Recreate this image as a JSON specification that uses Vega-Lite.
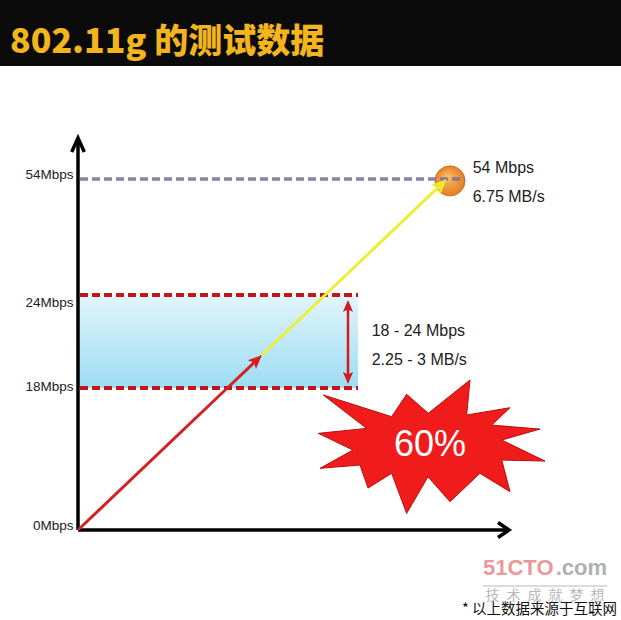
{
  "$schema": "https://vega.github.io/schema/vega-lite/v6.json",
  "width": 621,
  "height": 554,
  "autosize": {"type": "none"},
  "padding": {"top": 66, "left": 0, "right": 0, "bottom": 0},
  "background": "#0b0b0b",
  "view": {"fill": "#ffffff", "stroke": null},
  "title": {
    "text": "802.11g 的测试数据",
    "anchor": "start",
    "frame": "group",
    "font": "Noto Sans CJK SC",
    "fontSize": 34,
    "fontWeight": 900,
    "color": "#f2b51e",
    "baseline": "bottom",
    "offset": 6,
    "dx": 10,
    "dy": 34
  },
  "encoding": {
    "x": {"field": "x", "type": "quantitative", "scale": {"domain": [-78, 543], "nice": false, "zero": false}, "axis": null},
    "y": {
      "field": "y",
      "type": "quantitative",
      "scale": {"domain": [-11.41, 0, 18, 24, 54, 83.2], "range": [554, 464, 322, 229, 113, 0], "nice": false, "zero": false},
      "axis": {
        "values": [0, 18, 24, 54],
        "labelExpr": "datum.value + 'Mbps'",
        "domain": false,
        "ticks": false,
        "grid": false,
        "title": null,
        "offset": -78,
        "labelPadding": 5,
        "labelFont": "Liberation Sans",
        "labelFontSize": 13.5,
        "labelColor": "#222222",
        "labelOverlap": false,
        "labelBound": false,
        "labelFlush": false,
        "labelOffset": {"condition": [{"test": "datum.value === 24", "value": 7}, {"test": "datum.value === 18", "value": -2}], "value": -5}
      }
    }
  },
  "layer": [
    {
      "data": {"values": [{"x": 0, "x2": 280, "y": 18, "y2": 24}]},
      "mark": {"type": "rect", "fill": {"gradient": "linear", "x1": 0, "y1": 0, "x2": 0, "y2": 1, "stops": [{"offset": 0, "color": "#e2f5fb"}, {"offset": 1, "color": "#9cdcf3"}]}},
      "encoding": {"x2": {"field": "x2"}, "y2": {"field": "y2"}}
    },
    {
      "data": {"values": [{"x": 372, "y": 53.5}]},
      "mark": {"type": "point", "shape": "circle", "size": 900, "filled": true, "opacity": 1, "strokeWidth": 1, "stroke": "#d2701c",
        "fill": {"gradient": "radial", "x1": 0.4, "y1": 0.35, "r1": 0, "x2": 0.5, "y2": 0.5, "r2": 0.55, "stops": [{"offset": 0, "color": "#fbbf66"}, {"offset": 1, "color": "#e2781e"}]}}
    },
    {
      "data": {"values": [{"x": 2, "x2": 387, "y": 54}]},
      "mark": {"type": "rule", "stroke": "#7f72a0", "strokeWidth": 3.5, "strokeDash": [8, 4], "opacity": 0.9},
      "encoding": {"x2": {"field": "x2"}}
    },
    {
      "data": {"values": [{"x": 2, "x2": 280, "y": 24}, {"x": 2, "x2": 280, "y": 18}]},
      "mark": {"type": "rule", "stroke": "#c2141d", "strokeWidth": 4, "strokeDash": [8, 4]},
      "encoding": {"x2": {"field": "x2"}}
    },
    {
      "data": {"values": [{"x": 0, "x2": 0, "y": 0, "y2": 64.3}, {"x": 0, "x2": 430, "y": 0, "y2": 0}]},
      "mark": {"type": "rule", "stroke": "#000000", "strokeWidth": 3.5},
      "encoding": {"x2": {"field": "x2"}, "y2": {"field": "y2"}}
    },
    {
      "data": {"values": [{"x": 431, "y": 0}]},
      "mark": {"type": "point", "shape": "M-1,-0.68L0,0L-1,0.68", "size": 484, "filled": false, "stroke": "#000000", "strokeWidth": 3.5, "opacity": 1}
    },
    {
      "data": {"values": [{"x": 0, "y": 64.6}]},
      "mark": {"type": "point", "shape": "M-0.45,1L0,0L0.45,1", "size": 784, "filled": false, "stroke": "#000000", "strokeWidth": 3.5, "opacity": 1}
    },
    {
      "data": {"values": [{"x": 0, "y": 0}, {"x": 149.3, "y": 18}, {"x": 180, "y": 19.87}]},
      "mark": {"type": "line", "stroke": "#d42222", "strokeWidth": 3},
      "encoding": {}
    },
    {
      "data": {"values": [{"x": 178.9, "y": 19.82}]},
      "mark": {"type": "point", "shape": "M1,0L-1,-0.85L-0.55,0L-1,0.85Z", "size": 196, "angle": -43.6, "filled": true, "fill": "#d41d1d", "opacity": 1}
    },
    {
      "data": {"values": [{"x": 184, "y": 20.13}, {"x": 247.1, "y": 24}, {"x": 362, "y": 52.3}]},
      "mark": {"type": "line", "stroke": "#eeee36", "strokeWidth": 3},
      "encoding": {}
    },
    {
      "data": {"values": [{"x": 363.2, "y": 52.58}]},
      "mark": {"type": "point", "shape": "M1,0L-1,-0.85L-0.55,0L-1,0.85Z", "size": 256, "angle": -43.6, "filled": true, "fill": "#eaea2a", "opacity": 1}
    },
    {
      "data": {"values": [{"x": 270, "y": 18.5, "y2": 23.45}]},
      "mark": {"type": "rule", "stroke": "#d41a1a", "strokeWidth": 2.5},
      "encoding": {"y2": {"field": "y2"}}
    },
    {
      "data": {"values": [{"x": 270, "y": 23.29}]},
      "mark": {"type": "point", "shape": "M1,0L-1,-0.85L-0.55,0L-1,0.85Z", "size": 144, "angle": -90, "filled": true, "fill": "#d41a1a", "opacity": 1}
    },
    {
      "data": {"values": [{"x": 270, "y": 18.65}]},
      "mark": {"type": "point", "shape": "M1,0L-1,-0.85L-0.55,0L-1,0.85Z", "size": 144, "angle": 90, "filled": true, "fill": "#d41a1a", "opacity": 1}
    },
    {
      "data": {"values": [{"x": 353.5, "y": 10.58}]},
      "mark": {"type": "point", "shape": "M-0.953,-0.454L-0.351,-0.263L-0.219,-0.46L-0.028,-0.293L0.339,-0.586L0.31,-0.278L0.692,-0.342L0.53,-0.189L0.956,-0.154L0.619,-0.057L1,0.128L0.619,0.119L0.692,0.398L0.427,0.236L0.163,0.486L-0.031,0.266L-0.219,0.589L-0.351,0.236L-0.559,0.366L-0.63,0.163L-0.982,0.192L-0.692,0.031L-0.997,-0.116L-0.571,-0.16Z", "size": 51529, "filled": true, "fill": "#f01c1c", "stroke": "#b80e0e", "strokeWidth": 1, "opacity": 1}
    },
    {
      "data": {"values": [{"x": 352, "y": 10.77, "t": "60%"}]},
      "mark": {"type": "text", "font": "Liberation Sans", "fontSize": 36, "color": "#ffffff", "align": "center", "baseline": "middle"},
      "encoding": {"text": {"field": "t"}}
    },
    {
      "data": {"values": [
        {"x": 394.7, "y": 56.84, "t": "54 Mbps"},
        {"x": 394.7, "y": 49.34, "t": "6.75 MB/s"},
        {"x": 293.7, "y": 21.68, "t": "18 - 24 Mbps"},
        {"x": 293.7, "y": 19.81, "t": "2.25 - 3 MB/s"}
      ]},
      "mark": {"type": "text", "font": "Liberation Sans", "fontSize": 16, "color": "#222222", "align": "left", "baseline": "middle"},
      "encoding": {"text": {"field": "t"}}
    },
    {
      "data": {"values": [{"x": 405, "y": -4.82, "t": "51CTO"}]},
      "mark": {"type": "text", "font": "Liberation Sans", "fontSize": 22, "fontWeight": "bold", "color": "#e8999b", "align": "left", "baseline": "middle"},
      "encoding": {"text": {"field": "t"}}
    },
    {
      "data": {"values": [{"x": 529, "y": -4.82, "t": ".com"}]},
      "mark": {"type": "text", "font": "Liberation Sans", "fontSize": 22, "fontWeight": "bold", "color": "#b0b0b0", "align": "right", "baseline": "middle"},
      "encoding": {"text": {"field": "t"}}
    },
    {
      "data": {"values": [{"x": 405, "x2": 529, "y": -7.1}]},
      "mark": {"type": "rule", "stroke": "#cfcfcf", "strokeWidth": 1.5},
      "encoding": {"x2": {"field": "x2"}}
    },
    {
      "data": {"values": [{"x": 467, "y": -8.37, "t": "技\u2002术\u2002成\u2002就\u2002梦\u2002想"}]},
      "mark": {"type": "text", "font": "Noto Sans CJK SC", "fontSize": 14, "color": "#b8b8b8", "align": "center", "baseline": "middle"},
      "encoding": {"text": {"field": "t"}}
    },
    {
      "data": {"values": [{"x": 539, "y": -10.14, "t": "* 以上数据来源于互联网"}]},
      "mark": {"type": "text", "font": "Noto Sans CJK SC", "fontSize": 14.5, "color": "#111111", "align": "right", "baseline": "middle"},
      "encoding": {"text": {"field": "t"}}
    }
  ]
}
